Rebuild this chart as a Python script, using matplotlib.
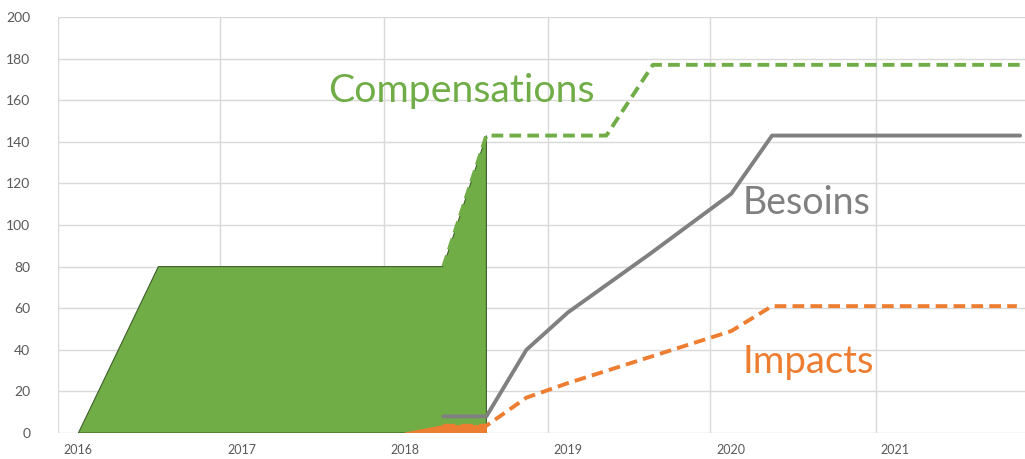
import matplotlib
matplotlib.use("Agg")
import matplotlib.pyplot as plt

# Realised compensations (area)
comp_area_x = [2016.0, 2016.49, 2018.236, 2018.50, 2018.50]
comp_area_y = [0, 80, 80, 143, 0]
# Projected compensations (dashed)
comp_proj_x = [2018.236, 2018.50, 2019.235, 2019.52, 2021.77]
comp_proj_y = [80, 143, 143, 177, 177]
# Realised impacts (area)
imp_area_x = [2018.0, 2018.236, 2018.50, 2018.50]
imp_area_y = [0, 3.5, 3.5, 0]
# Projected impacts (dashed)
imp_proj_x = [2018.236, 2018.50, 2018.745, 2019.0, 2020.0, 2020.25, 2021.75]
imp_proj_y = [3.5, 3.5, 17, 24, 49, 61, 61]
# Besoins
bes_x = [2018.236, 2018.50, 2018.745, 2019.0, 2019.5, 2020.0, 2020.25, 2021.77]
bes_y = [8, 8, 40, 58, 86, 115, 143, 143]

x_ticks = [2016, 2017, 2018, 2019, 2020, 2021]
x_grid = [2015.875, 2016.87, 2017.87, 2018.88, 2019.87, 2020.89]
y_ticks = [0, 20, 40, 60, 80, 100, 120, 140, 160, 180, 200]

GREEN = "#70AD47"
ORANGE = "#ED7D31"
GRAY = "#808080"
FONT = "Lato"

fig = plt.figure(figsize=(10.25, 4.59), dpi=100)
ax = fig.add_axes([58/1025, 1-433/459, 1-58/1025, (433-17)/459])

ax.fill(comp_area_x, comp_area_y, facecolor=GREEN, edgecolor="#3f5f2a", linewidth=0.8, zorder=3)
ax.fill(imp_area_x, imp_area_y, facecolor=ORANGE, edgecolor=ORANGE, linewidth=0.8, zorder=4)
ax.plot(comp_proj_x, comp_proj_y, color=GREEN, lw=2.8, dashes=(3, 1.6), zorder=5)
ax.plot(imp_proj_x, imp_proj_y, color=ORANGE, lw=2.8, dashes=(3, 1.6), zorder=5)
ax.plot(bes_x, bes_y, color=GRAY, lw=2.8, zorder=6, solid_capstyle="round")

ax.set_xlim(2015.875, 2021.80)
ax.set_ylim(0, 200)
ax.set_yticks(y_ticks)
ax.set_yticklabels([str(v) for v in y_ticks], fontsize=10, color="#595959", family=FONT)
ax.set_xticks(x_ticks)
ax.set_xticklabels([str(v) for v in x_ticks], fontsize=9, color="#595959", family=FONT)
ax.set_xticks(x_grid, minor=True)
ax.tick_params(axis="both", which="both", length=0)
ax.tick_params(axis="y", pad=20)
ax.tick_params(axis="x", pad=8)
ax.grid(False)
for v in y_ticks:
    ax.axhline(v, color="#D9D9D9", lw=1, zorder=1)
for v in x_grid:
    ax.axvline(v, color="#D9D9D9", lw=1, zorder=1)
for s in ax.spines.values():
    s.set_visible(False)

ax.text(2017.53, 159, "Compensations", fontsize=28.3, color=GREEN, family=FONT, va="baseline", ha="left", zorder=7)
ax.text(2020.07, 105.5, "Besoins", fontsize=27, color=GRAY, family=FONT, va="baseline", ha="left", zorder=7)
ax.text(2020.07, 29, "Impacts", fontsize=27.5, color=ORANGE, family=FONT, va="baseline", ha="left", zorder=7)

fig.savefig("out.png", dpi=100)
